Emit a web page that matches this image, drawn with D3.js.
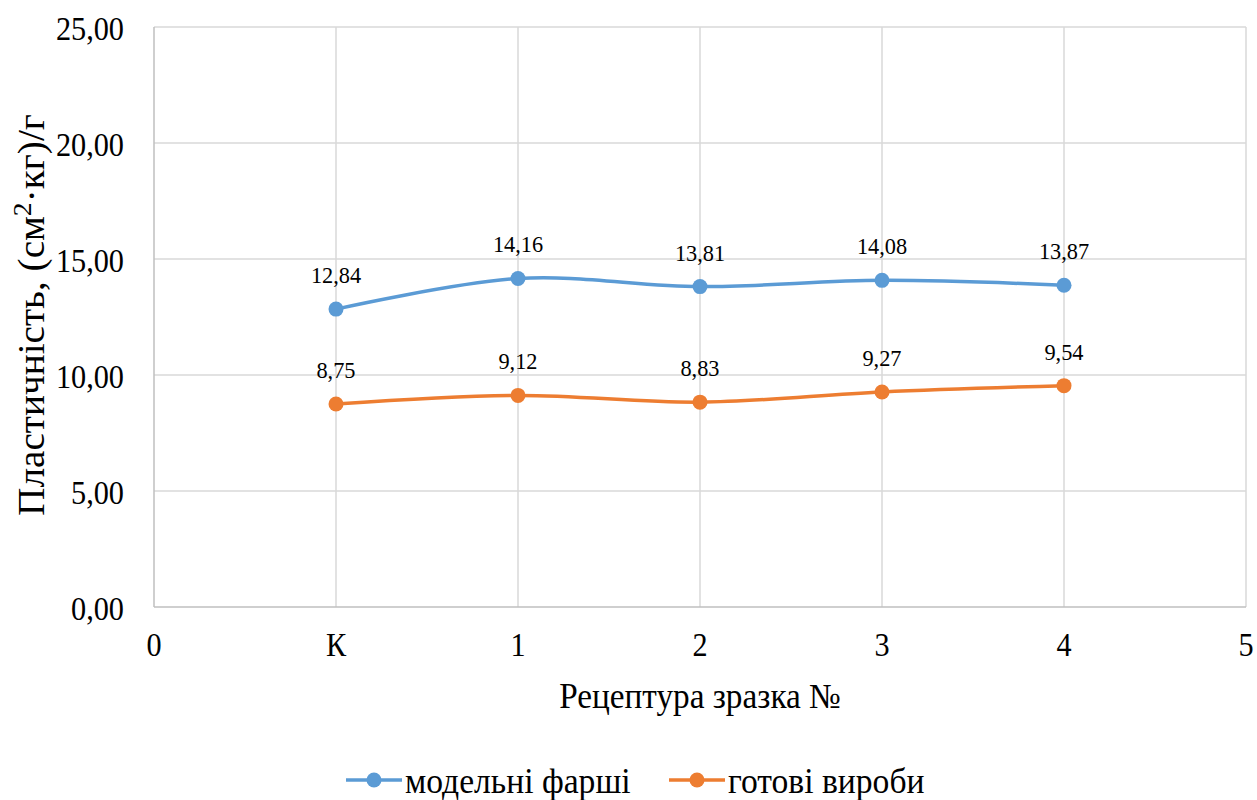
<!DOCTYPE html>
<html><head><meta charset="utf-8">
<script src="https://cdn.jsdelivr.net/npm/d3@7"></script>
<style>body{margin:0;background:#fff;} svg text{fill:#000;}</style>
</head><body>
<svg id="c" width="1257" height="800"></svg>
<script>
const xTickLabels = ["0","К","1","2","3","4","5"];
const categories = ["К","1","2","3","4"];
const seriesNames = ["модельні фарші","готові вироби"];
const modelni = [12.84,14.16,13.81,14.08,13.87];
const gotovi = [8.75,9.12,8.83,9.27,9.54];
const yTicks = [0,5,10,15,20,25];
const colors = ["#5B9BD5","#ED7D31"];

const FF = "'Liberation Serif','Times New Roman',Times,serif";
const svg = d3.select("#c");
const L=154,R=1246,T=27,B=607;
const x = d3.scaleLinear().domain([0,6]).range([L,R]);
const y = d3.scaleLinear().domain([0,25]).range([B,T]);
const fmt = v => d3.format(".2f")(v).replace(".",",");

// horizontal condensing like the reference's narrow Times rendering
function txt(sel,size,k){
  sel.attr("font-family",FF).attr("font-size",size);
  sel.each(function(){
    const n=this; const w=n.getComputedTextLength();
    if(w>0){ n.setAttribute("textLength",(w*k).toFixed(1)); n.setAttribute("lengthAdjust","spacingAndGlyphs"); }
  });
  return sel;
}

// gridlines
svg.append("g").selectAll("line").data(yTicks.slice(1)).join("line")
  .attr("x1",L).attr("x2",R).attr("y1",d=>y(d)).attr("y2",d=>y(d))
  .attr("stroke","#d9d9d9").attr("stroke-width",1.5);
svg.append("g").selectAll("line").data(d3.range(1,7)).join("line")
  .attr("x1",d=>x(d)).attr("x2",d=>x(d)).attr("y1",T).attr("y2",B)
  .attr("stroke","#d9d9d9").attr("stroke-width",1.5);
svg.append("line").attr("x1",L).attr("x2",L).attr("y1",T).attr("y2",B).attr("stroke","#bfbfbf").attr("stroke-width",1.5);
svg.append("line").attr("x1",L).attr("x2",R).attr("y1",B).attr("y2",B).attr("stroke","#bfbfbf").attr("stroke-width",1.5);

txt(svg.append("g").selectAll("text").data(yTicks).join("text")
  .attr("x",124).attr("y",d=>y(d)+13).attr("text-anchor","end").text(fmt),34,0.89);
txt(svg.append("g").selectAll("text").data(xTickLabels).join("text")
  .attr("x",(d,i)=>x(i)).attr("y",656).attr("text-anchor","middle").text(d=>d),34,0.89);

txt(svg.append("text").attr("x",(L+R)/2).attr("y",708).attr("text-anchor","middle").text("Рецептура зразка №"),35,0.95);

const yt = svg.append("text").attr("transform","translate(44,315) rotate(-90)").attr("text-anchor","middle")
  .attr("font-family",FF).attr("font-size",37);
yt.append("tspan").text("Пластичність,  (см");
yt.append("tspan").attr("dy",-13).attr("font-size",26).text("2");
yt.append("tspan").attr("dy",13).text("·кг)/г");
{
  const w = yt.node().getComputedTextLength();
  yt.attr("textLength",(w*1.06).toFixed(1)).attr("lengthAdjust","spacingAndGlyphs");
}

const series = [modelni, gotovi];
const line = d3.line().x((d,i)=>x(i+1)).y(d=>y(d)).curve(d3.curveCardinal.tension(0));
series.forEach((s,k)=>{
  const g = svg.append("g");
  g.append("path").datum(s).attr("d",line).attr("fill","none").attr("stroke",colors[k]).attr("stroke-width",3.5);
  g.selectAll("circle").data(s).join("circle").attr("cx",(d,i)=>x(i+1)).attr("cy",d=>y(d)).attr("r",7.5).attr("fill",colors[k]);
  txt(g.selectAll("text").data(s).join("text").attr("x",(d,i)=>x(i+1)).attr("y",d=>y(d)-26)
    .attr("text-anchor","middle").text(fmt),24,0.93);
});

const legX=[346,669];
seriesNames.forEach((n,k)=>{
  const g = svg.append("g").attr("transform",`translate(${legX[k]},780)`);
  g.append("line").attr("x1",0).attr("x2",56).attr("stroke",colors[k]).attr("stroke-width",3.5);
  g.append("circle").attr("cx",28).attr("r",7.5).attr("fill",colors[k]);
  txt(g.append("text").attr("x",59).attr("y",13).text(n),35,0.96);
});
</script>
</body></html>
